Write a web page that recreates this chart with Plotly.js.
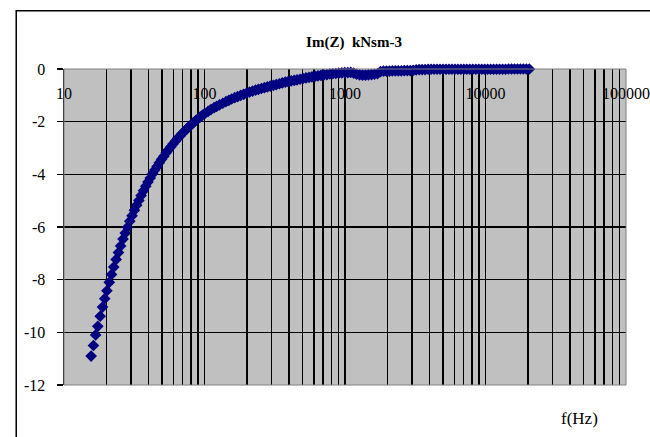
<!DOCTYPE html>
<html>
<head>
<meta charset="utf-8">
<script src="https://cdn.plot.ly/plotly-3.0.1.min.js"></script>
<style>html,body{margin:0;padding:0;background:#fff;}#chart{width:650px;height:437px;}</style>
</head>
<body>
<div id="chart"></div>
<script>
// Frequency (Hz) and Im(Z) (kNsm-3)
const freqHz = [
  15.6, 16.2, 16.8, 17.4, 18.1, 18.8, 19.5, 20.2, 21.0, 21.8, 22.6, 23.5, 24.4, 25.3, 26.3, 27.3, 28.3, 29.4,
  30.5, 31.7, 32.9, 34.1, 35.4, 36.8, 38.2, 39.6, 41.1, 42.7, 44.3, 46.0, 47.7, 49.5, 51.4, 53.4, 55.4, 57.5,
  59.7, 62.0, 64.3, 66.8, 69.3, 72.0, 74.7, 77.5, 80.5, 83.5, 86.7, 90.0, 93.4, 97.0, 100.7,
  106, 111, 117, 122, 128, 135, 142, 149, 156, 164, 172, 181, 190, 199, 209, 220, 231, 242, 254, 267, 280,
  294, 309, 324, 341, 358, 376, 394, 414, 435, 456, 479, 503, 528, 555, 582, 612, 642, 674, 708, 743, 780,
  819, 860, 903, 949, 996, 1046, 1098, 1153, 1211, 1271, 1335, 1401, 1471, 1545, 1622, 1703, 1789, 1878,
  1972, 2071, 2174, 2283, 2397, 2517, 2643, 2775, 2914, 3059, 3212, 3373, 3541, 3718, 3904, 4100, 4305,
  4520, 4746, 4983, 5232, 5494, 5769, 6057, 6360, 6678, 7012, 7362, 7731, 8117, 8523, 8949, 9397, 9866,
  10360, 10878, 11422, 11993, 12592, 13222, 13883, 14577, 15306, 16071, 16875, 17718, 18604, 19535,
  20511, 21537, 22500, 23500
];
const imZ = [
  -10.90, -10.50, -10.10, -9.77, -9.39, -9.04, -8.72, -8.42, -8.10, -7.80, -7.52, -7.23, -6.97, -6.72, -6.46, -6.23, -6.01, -5.78,
  -5.57, -5.36, -5.17, -4.99, -4.80, -4.62, -4.45, -4.29, -4.14, -3.98, -3.84, -3.70, -3.56, -3.43, -3.31, -3.18, -3.07, -2.96,
  -2.85, -2.74, -2.64, -2.55, -2.45, -2.36, -2.28, -2.19, -2.11, -2.04, -1.96, -1.89, -1.82, -1.75, -1.69,
  -1.61, -1.54, -1.47, -1.42, -1.36, -1.30, -1.24, -1.19, -1.14, -1.09, -1.05, -1.00, -0.96, -0.92, -0.88, -0.84, -0.80, -0.77, -0.74, -0.71, -0.68,
  -0.65, -0.62, -0.59, -0.56, -0.53, -0.50, -0.48, -0.45, -0.43, -0.41, -0.39, -0.36, -0.34, -0.32, -0.30, -0.28, -0.26, -0.24, -0.22, -0.21, -0.19,
  -0.18, -0.17, -0.16, -0.15, -0.14, -0.14, -0.13, -0.16, -0.20, -0.22, -0.23, -0.23, -0.22, -0.21, -0.20, -0.18, -0.10, -0.08,
  -0.08, -0.08, -0.07, -0.07, -0.07, -0.07, -0.06, -0.06, -0.06, -0.05, -0.03, -0.02, -0.02, -0.02, -0.01, -0.01, -0.01,
  -0.01, -0.01, -0.01, -0.01, -0.01, -0.01, -0.01, -0.01, -0.01, -0.01, -0.01, -0.01, -0.01, -0.01, -0.01, -0.01, -0.01,
  -0.01, -0.01, -0.01, -0.01, -0.01, -0.01, -0.01, 0.00, 0.00, 0.00, 0.00, 0.00, 0.00, 0.00,
  0.00, 0.01, 0.01, 0.02
];

const xTickVals = [10,20,30,40,50,60,70,80,90,100,200,300,400,500,600,700,800,900,1000,2000,3000,4000,5000,6000,7000,8000,9000,10000,20000,30000,40000,50000,60000,70000,80000,90000,100000];
const xTickText = ['10','','','','','','','','','100','','','','','','','','','1000','','','','','','','','','10000','','','','','','','','','100000'];
const yTickVals = [0,-2,-4,-6,-8,-10,-12];
const yTickText = ['0','-2','-4','-6','-8','-10','-12'];

const chartTitle = 'Im(Z)  kNsm-3';
const xLabel = 'f(Hz)';

const serif = '"Liberation Serif", "Times New Roman", serif';

const trace = {
  x: freqHz, y: imZ, type: 'scatter', mode: 'markers',
  marker: {symbol: 'diamond', size: 9, color: '#000080', line: {width: 0}},
  cliponaxis: false, hoverinfo: 'skip', showlegend: false
};

const layout = {
  width: 650, height: 437,
  margin: {l: 64, r: 24, t: 69, b: 52},
  paper_bgcolor: '#ffffff',
  plot_bgcolor: '#c0c0c0',
  font: {family: serif, size: 16, color: '#000'},
  title: {text: '<b>' + chartTitle + '</b>', font: {family: serif, size: 15, color: '#000'},
          x: 0.516, xref: 'paper', xanchor: 'center', y: 0.905, yref: 'container', yanchor: 'middle'},
  xaxis: {
    type: 'log', range: [1, 5], side: 'top',
    tickmode: 'array', tickvals: xTickVals, ticktext: xTickText,
    ticks: '', ticklabelposition: 'inside', ticklabeloverflow: 'allow', ticklabelstandoff: 16,
    tickfont: {family: serif, size: 16, color: '#000'},
    showgrid: true, gridcolor: '#000', gridwidth: 1.5,
    showline: false, zeroline: false
  },
  yaxis: {
    range: [-12, 0], tickmode: 'array', tickvals: yTickVals, ticktext: yTickText,
    ticks: 'outside', ticklen: 6, tickcolor: '#000', tickwidth: 1.5, ticklabelstandoff: 8,
    tickfont: {family: serif, size: 16, color: '#000'},
    showgrid: true, gridcolor: '#000', gridwidth: 1.5,
    showline: true, linecolor: '#000', linewidth: 1.5, zeroline: false
  },
  shapes: [
    {type: 'rect', xref: 'paper', yref: 'paper', x0: 0, x1: 1, y0: 0, y1: 1,
     line: {color: '#808080', width: 1}, layer: 'above'},
    {type: 'rect', xref: 'paper', yref: 'paper', x0: -0.085, x1: 1.1, y0: -0.25, y1: 1.184,
     line: {color: '#000', width: 1.5}, fillcolor: 'rgba(0,0,0,0)'}
  ],
  annotations: [
    {text: xLabel, xref: 'paper', yref: 'paper', x: 0.918, y: -0.105, xanchor: 'center', yanchor: 'middle',
     showarrow: false, font: {family: serif, size: 17, color: '#000'}}
  ]
};

Plotly.newPlot('chart', [trace], layout, {displayModeBar: false, staticPlot: true});
</script>
</body>
</html>
